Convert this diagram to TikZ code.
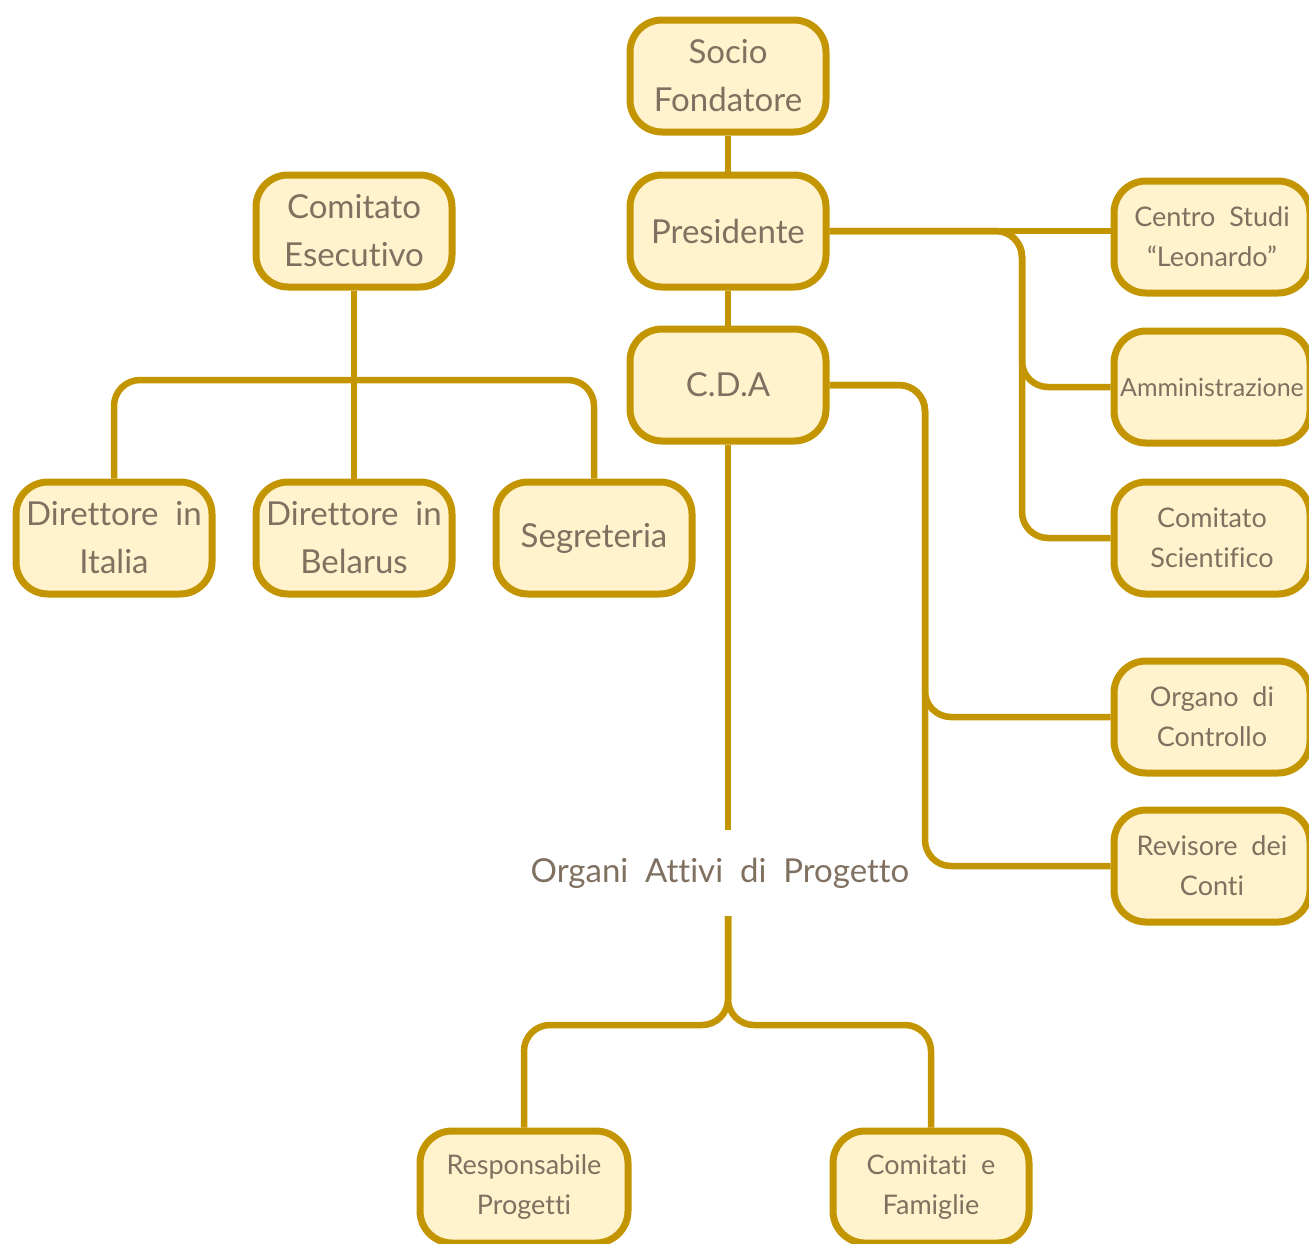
\documentclass[tikz,border=0pt]{standalone}
\usepackage{fontspec}
\setmainfont{Lato}[Ligatures={NoCommon}]
\usetikzlibrary{positioning}
\definecolor{boxline}{RGB}{195,149,0}
\definecolor{boxfill}{RGB}{255,242,204}
\definecolor{boxtext}{RGB}{128,112,96}
\tikzset{
  ente/.style={draw=boxline, fill=boxfill, text=boxtext, line width=7pt,
    rounded corners=32pt, minimum width=196pt, minimum height=112pt,
    align=center, inner sep=0pt, font=\fontsize{33}{48}\selectfont},
  organo/.style={ente, font=\fontsize{27}{40}\selectfont},
  link/.style={draw=boxline, line width=6.5pt, rounded corners=26pt}
}

\begin{document}
\begin{tikzpicture}[x=1pt, y=-1pt]
\useasboundingbox (0,0) rectangle (1309,1243);
% centre column
\node[ente] (socio) at (728,76) {Socio\\Fondatore};
\node[ente] (pres) at (728,231) {Presidente};
\node[ente] (cda) at (728,385) {C.D.A};
% left group
\node[ente] (esec) at (354,231) {Comitato\\Esecutivo};
\node[ente] (italia) at (114,538) {Direttore~ in\\Italia};
\node[ente] (belarus) at (354,538) {Direttore~ in\\Belarus};
\node[ente] (segr) at (594,538) {Segreteria};
% right column
\node[organo] (studi) at (1212,237) {Centro~ Studi\\“Leonardo”};
\node[organo, font=\fontsize{25}{30}\selectfont] (amm) at (1212,387) {Amministrazione};
\node[organo] (scient) at (1212,538) {Comitato\\Scientifico};
\node[organo] (controllo) at (1212,717) {Organo~ di\\Controllo};
\node[organo] (revisore) at (1212,866) {Revisore~ dei\\Conti};
% project bodies
\node[text=boxtext, font=\fontsize{33}{36}\selectfont, minimum height=86pt,
      inner sep=0pt] (attivi) at (720,873) {Organi~ Attivi~ di~ Progetto};
\node[organo, minimum width=208pt] (resp) at (524,1187) {Responsabile\\Progetti};
\node[organo] (famiglie) at (931,1187) {Comitati~ e\\Famiglie};

\coordinate (pbus) at (1022,0);
\coordinate (cbus) at (925,0);
\coordinate (ebus) at (0,380);
\coordinate (abus) at (0,1025);

\draw[link] (socio) -- (pres);
\draw[link] (pres) -- (cda);
\draw[link] (pres.east) -- (studi.west |- pres.east);
\draw[link] (pres.east) -| (pbus |- amm.west) -- (amm.west);
\draw[link] (pres.east) -| (pbus |- scient.west) -- (scient.west);
\draw[link] (cda.east) -| (cbus |- controllo.west) -- (controllo.west);
\draw[link] (cda.east) -| (cbus |- revisore.west) -- (revisore.west);
\draw[link] (esec) -- (belarus);
\draw[link] (esec.south |- ebus) -| (italia.north);
\draw[link] (esec.south |- ebus) -| (segr.north);
\draw[link] (cda.south) -- (cda.south |- attivi.north);
\draw[link] (cda.south |- attivi.south) |- (resp.north |- abus) -- (resp.north);
\draw[link] (cda.south |- attivi.south) |- (famiglie.north |- abus) -- (famiglie.north);
\end{tikzpicture}
\end{document}
